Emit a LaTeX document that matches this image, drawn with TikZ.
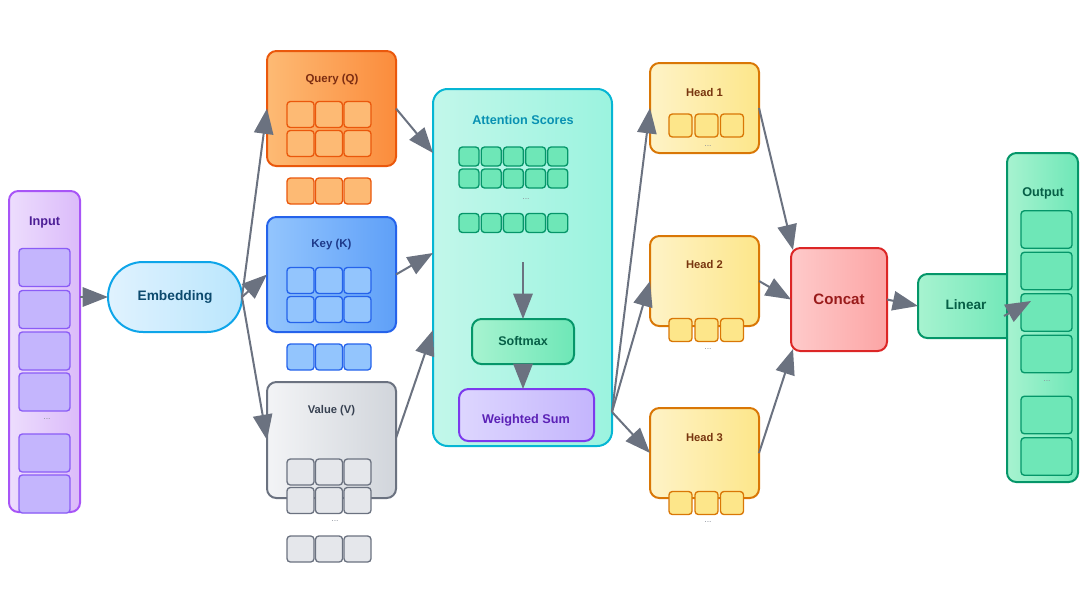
\documentclass[tikz,border=0pt]{standalone}
\usepackage{fontspec}
\setmainfont{Liberation Sans}
\usetikzlibrary{arrows.meta,shapes.misc}
\definecolor{arrgray}{HTML}{6B7280}
\definecolor{dotgray}{HTML}{8A909A}
\definecolor{inL}{HTML}{EDDDFD}\definecolor{inR}{HTML}{DBBBFA}\definecolor{inB}{HTML}{A855F7}
\definecolor{inC}{HTML}{C4B5FD}\definecolor{inCB}{HTML}{8B5CF6}\definecolor{inT}{HTML}{4C1D95}
\definecolor{emL}{HTML}{E0F2FE}\definecolor{emR}{HTML}{BAE6FD}\definecolor{emB}{HTML}{0EA5E9}\definecolor{emT}{HTML}{0C4A6E}
\definecolor{qL}{HTML}{FDBA74}\definecolor{qR}{HTML}{FB8C3C}\definecolor{qB}{HTML}{EA580C}\definecolor{qT}{HTML}{7C2D12}
\definecolor{kL}{HTML}{93C5FD}\definecolor{kR}{HTML}{5FA0F8}\definecolor{kB}{HTML}{2563EB}\definecolor{kT}{HTML}{1E3A8A}
\definecolor{vL}{HTML}{F3F4F6}\definecolor{vR}{HTML}{D1D5DB}\definecolor{vB}{HTML}{6B7280}\definecolor{vT}{HTML}{374151}\definecolor{vC}{HTML}{E5E7EB}
\definecolor{aL}{HTML}{C2F7EA}\definecolor{aR}{HTML}{9BF3DF}\definecolor{aB}{HTML}{06B6D4}\definecolor{aT}{HTML}{0891B2}
\definecolor{gL}{HTML}{A7F3D0}\definecolor{gR}{HTML}{6EE7B7}\definecolor{gB}{HTML}{059669}\definecolor{gT}{HTML}{065F46}
\definecolor{wL}{HTML}{DDD6FE}\definecolor{wR}{HTML}{C4B5FD}\definecolor{wB}{HTML}{7C3AED}\definecolor{wT}{HTML}{5B21B6}
\definecolor{hL}{HTML}{FEF3C7}\definecolor{hR}{HTML}{FDE68A}\definecolor{hB}{HTML}{D97706}\definecolor{hT}{HTML}{78350F}
\definecolor{cL}{HTML}{FECACA}\definecolor{cR}{HTML}{FCA5A5}\definecolor{cB}{HTML}{DC2626}\definecolor{cT}{HTML}{991B1B}
\tikzset{
  box/.style={draw, line width=1.5pt, rounded corners=7pt, inner sep=0pt, outer sep=0pt},
  cell/.style={draw, line width=1pt, rounded corners=2.5pt, inner sep=0pt, outer sep=0pt},
  lbl/.style={font=\bfseries\fontsize{#1pt}{#1pt}\selectfont, inner sep=0pt},
  dots/.style={font=\fontsize{6.5pt}{6.5pt}\selectfont, text=dotgray, inner sep=0pt},
  arr/.style={draw=arrgray, line width=1.5pt, -{Triangle[length=19pt,width=14.5pt]}},
  wh/.style 2 args={minimum width=#1*0.75pt, minimum height=#2*0.75pt},
}
\begin{document}
\begin{tikzpicture}[x=0.75pt,y=-0.75pt]
\useasboundingbox (0,0) rectangle (1080,593);
% ---------- Input ----------
\node[box, draw=inB, left color=inL, right color=inR, wh={71}{321}] (inp) at (44.5,351.5) {};
\node[lbl=9.5, text=inT] (inplab) at (44.5,222) {Input};
\foreach \y [count=\i] in {267.5,309.5,351,392,453,494}
  \node[cell, draw=inCB, fill=inC, wh={51}{38}] (ic-\i) at (44.5,\y) {};
\node[dots] (indots) at (47,419) {...};
% ---------- Embedding ----------
\node[draw=emB, line width=1.5pt, rounded rectangle, left color=emL, right color=emR, wh={134}{70}, inner sep=0pt, outer sep=0pt,
      font=\bfseries\fontsize{10.3pt}{10.3pt}\selectfont, text=emT] (emb) at (175,297) {Embedding};
% ---------- Query ----------
\node[box, draw=qB, left color=qL, right color=qR, wh={129}{115}] (q) at (331.5,108.5) {};
\node[lbl=8.6, text=qT] (qlab) at (332,80) {Query (Q)};
\foreach \x [count=\c] in {300.5,329,357.5}{
  \foreach \y [count=\r] in {114.5,143.5}
    \node[cell, draw=qB, fill=qL, wh={27}{26}] (qc-\r-\c) at (\x,\y) {};
  \node[cell, draw=qB, fill=qL, wh={27}{26}] (qb-\c) at (\x,191) {};
}
% ---------- Key ----------
\node[box, draw=kB, left color=kL, right color=kR, wh={129}{115}] (k) at (331.5,274.5) {};
\node[lbl=8.6, text=kT] (klab) at (331.5,245) {Key (K)};
\foreach \x [count=\c] in {300.5,329,357.5}{
  \foreach \y [count=\r] in {280.5,309.5}
    \node[cell, draw=kB, fill=kL, wh={27}{26}] (kc-\r-\c) at (\x,\y) {};
  \node[cell, draw=kB, fill=kL, wh={27}{26}] (kb-\c) at (\x,357) {};
}
% ---------- Value ----------
\node[box, draw=vB, left color=vL, right color=vR, wh={129}{116}] (v) at (331.5,440) {};
\node[lbl=8.4, text=vT] (vlab) at (331.5,411) {Value (V)};
\foreach \x [count=\c] in {300.5,329,357.5}{
  \foreach \y [count=\r] in {472,500.5}
    \node[cell, draw=vB, fill=vC, wh={27}{26}] (vc-\r-\c) at (\x,\y) {};
  \node[cell, draw=vB, fill=vC, wh={27}{26}] (vb-\c) at (\x,549) {};
}
\node[dots] (vdots) at (335,521) {...};
% ---------- Attention ----------
\node[box, rounded corners=11pt, draw=aB, left color=aL, right color=aR, wh={179}{357}] (att) at (522.5,267.5) {};
\node[lbl=9.5, text=aT] (attlab) at (523,120) {Attention Scores};
\foreach \x [count=\c] in {469,491.2,513.4,535.6,557.8}{
  \foreach \y [count=\r] in {156.5,178.5,223}
    \node[cell, draw=gB, fill=gR, wh={20}{19}] (ac-\r-\c) at (\x,\y) {};
}
\node[dots] (adots) at (526,199) {...};
\node[box, draw=gB, left color=gL, right color=gR, wh={102}{45}, lbl=9.4, text=gT] (sm) at (523,341.5) {Softmax};
\node[box, draw=wB, left color=wL, right color=wR, wh={135}{52}] (ws) at (526.5,415) {};
\node[lbl=9.5, text=wT] (wslab) at (526,420) {Weighted Sum};
\coordinate (smin) at (523,262);
\coordinate (attout) at (612,412);
% ---------- Heads ----------
\foreach \n/\cy/\ly/\ry/\dy in {1/108/92/125.5/146, 2/281/264/330/349, 3/453/437/503/522}{
  \node[box, draw=hB, left color=hL, right color=hR, wh={109}{90}] (h\n) at (704.5,\cy) {};
  \node[lbl=8.4, text=hT] (h\n lab) at (704.5,\ly) {Head \n};
  \foreach \x [count=\c] in {680.5,706.5,732}
    \node[cell, draw=hB, fill=hR, wh={23}{23}] (hc\n-\c) at (\x,\ry) {};
  \node[dots] (hdots\n) at (708,\dy) {...};
}
% ---------- Concat ----------
\node[box, draw=cB, left color=cL, right color=cR, wh={96}{103}, lbl=11.3, text=cT] (cc) at (839,299.5) {Concat};
% ---------- Linear ----------
\node[box, draw=gB, left color=gL, right color=gR, wh={97}{64}] (lin) at (966.5,306) {};
\node[lbl=10.2, text=gT] (linlab) at (966,305) {Linear};
% ---------- Output ----------
\node[box, draw=gB, left color=gL, right color=gR, wh={71}{329}] (out) at (1042.5,317.5) {};
\node[lbl=9.5, text=gT] (outlab) at (1043,193) {Output};
\foreach \y [count=\i] in {229.5,271,312.5,354,415,456.5}
  \node[cell, draw=gB, fill=gR, wh={51}{37.5}] (oc-\i) at (1046.5,\y) {};
\node[dots] (odots) at (1047,381) {...};
\coordinate (linout) at (1004,316);
\coordinate (outin) at (1031,301);
% ---------- Arrows ----------
\draw[arr] (inp.east |- emb.west) -- (emb.west);
\draw[arr] (emb.east) -- (q.west);
\draw[arr] (emb.east) -- (k.west);
\draw[arr] (emb.east) -- (v.west);
\draw[arr] (q.east) -- (att.west |- 0,153);
\draw[arr] (k.east) -- (att.west |- 0,253);
\draw[arr] (v.east |- 0,438) -- (att.west |- 0,330);
\draw[arr] (smin) -- (sm.north);
\draw[arr] (sm.south) -- (sm.south |- ws.north);
\draw[arr] (attout) -- (h1.west);
\draw[arr] (attout) -- (h2.west);
\draw[arr] (attout) -- (h3.west);
\draw[arr] (h1.east) -- ([shift={(1.5pt,-1.5pt)}]cc.north west);
\draw[arr] (h2.east) -- (cc.west);
\draw[arr] (h3.east) -- ([shift={(1.5pt,1.5pt)}]cc.south west);
\draw[arr] (cc.east) -- (lin.west);
\draw[arr] (linout) -- (outin);
\end{tikzpicture}
\end{document}
